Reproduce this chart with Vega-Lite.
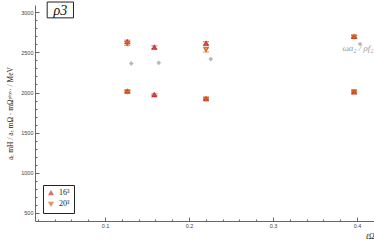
{
  "$schema": "https://vega.github.io/schema/vega-lite/v6.json",
  "width": 339,
  "height": 216,
  "autosize": {"type": "none"},
  "padding": {"left": 35, "top": 5, "right": 0, "bottom": 20},
  "config": {
    "view": {"stroke": null},
    "font": "Liberation Serif",
    "axis": {"labelFont": "Liberation Sans", "labelFontSize": 5.5, "labelColor": "#444", "labelOverlap": false, "domainColor": "#666", "tickColor": "#666", "grid": false, "titleFont": "Liberation Serif", "titleFontWeight": "normal", "titleColor": "#222"}
  },
  "datasets": {
    "lat": [
      {"l": 0.1266, "m": 2632, "e": 20, "ens": "16³"},
      {"l": 0.1266, "m": 2015, "e": 10, "ens": "16³"},
      {"l": 0.1587, "m": 2563, "e": 18, "ens": "16³"},
      {"l": 0.1587, "m": 1973, "e": 10, "ens": "16³"},
      {"l": 0.2203, "m": 2612, "e": 20, "ens": "16³"},
      {"l": 0.2203, "m": 1923, "e": 10, "ens": "16³"},
      {"l": 0.3965, "m": 2697, "e": 12, "ens": "16³"},
      {"l": 0.3965, "m": 2005, "e": 10, "ens": "16³"},
      {"l": 0.1266, "m": 2610, "e": 25, "ens": "20³"},
      {"l": 0.1266, "m": 2010, "e": 10, "ens": "20³"},
      {"l": 0.2203, "m": 2535, "e": 30, "ens": "20³"},
      {"l": 0.2203, "m": 1920, "e": 10, "ens": "20³"},
      {"l": 0.3965, "m": 2692, "e": 12, "ens": "20³"},
      {"l": 0.3965, "m": 2010, "e": 12, "ens": "20³"}
    ],
    "ref": [
      {"l": 0.1313, "m": 2363},
      {"l": 0.164, "m": 2370},
      {"l": 0.2259, "m": 2417},
      {"l": 0.4036, "m": 2604}
    ],
    "one": [{"k": 1}]
  },
  "layer": [
    {
      "data": {"name": "lat"},
      "mark": {"type": "errorbar", "ticks": {"size": 6}, "thickness": 1},
      "encoding": {
        "x": {"field": "l", "type": "quantitative", "scale": {"domain": [0.0167, 0.4202], "nice": false, "zero": false},
          "axis": {"values": [0.02,0.04,0.06,0.08,0.1,0.12,0.14,0.16,0.18,0.2,0.22,0.24,0.26,0.28,0.3,0.32,0.34,0.36,0.38,0.4,0.42],
            "tickCount": 200,
            "format": ".1f",
            "labelOpacity": {"condition": {"test": "abs(datum.value*10 - round(datum.value*10)) < 0.000001", "value": 1}, "value": 0},
            "tickSize": {"condition": {"test": "abs(datum.value*10 - round(datum.value*10)) < 0.000001", "value": -4}, "value": -2},
            "labelPadding": 6, "labelFlush": false, "labelOverlap": false, "labelBound": false,
            "title": "ℓΩ", "titleFontStyle": "italic", "titleFontSize": 8, "titleAnchor": "end", "titleAlign": "right", "titlePadding": 2}},
        "y": {"field": "m", "type": "quantitative", "scale": {"domain": [400, 3090], "nice": false, "zero": false},
          "axis": {"values": [500,600,700,800,900,1000,1100,1200,1300,1400,1500,1600,1700,1800,1900,2000,2100,2200,2300,2400,2500,2600,2700,2800,2900,3000],
            "tickCount": 200,
            "format": "d",
            "labelOpacity": {"condition": {"test": "datum.value % 500 === 0", "value": 1}, "value": 0},
            "tickSize": {"condition": {"test": "datum.value % 500 === 0", "value": -4}, "value": -2},
            "labelPadding": 6, "labelOverlap": false, "labelBound": false, "labelFlush": false,
            "title": "aₜ mH / aₜ mΩ · mΩᵖʰʸˢ· / MeV", "titleFontSize": 7.5, "titlePadding": 4}},
        "yError": {"field": "e"},
        "color": {"field": "ens", "type": "nominal", "scale": {"domain": ["16³", "20³"], "range": ["#c8322d", "#d2691e"]}}
      }
    },
    {
      "data": {"name": "lat"},
      "mark": {"type": "point", "filled": false, "size": 18, "strokeWidth": 1.2, "opacity": 1},
      "encoding": {
        "x": {"field": "l", "type": "quantitative"},
        "y": {"field": "m", "type": "quantitative"},
        "color": {"field": "ens", "type": "nominal", "legend": {"title": null, "orient": "bottom-left", "offset": 8, "strokeColor": "#222", "padding": 4, "labelFont": "Liberation Serif", "labelFontSize": 8, "labelColor": "#222", "symbolSize": 16, "symbolStrokeWidth": 1.2, "rowPadding": 1}},
        "shape": {"field": "ens", "type": "nominal", "scale": {"domain": ["16³", "20³"], "range": ["triangle-up", "triangle-down"]}}
      }
    },
    {
      "data": {"name": "ref"},
      "mark": {"type": "point", "filled": true, "size": 22, "color": "#b8b8b8", "opacity": 1, "shape": "diamond"},
      "encoding": {
        "x": {"field": "l", "type": "quantitative"},
        "y": {"field": "m", "type": "quantitative"}
      }
    },
    {
      "data": {"name": "one"},
      "mark": {"type": "text", "text": "ωa₂ / ρf₂", "font": "Liberation Serif", "fontStyle": "italic", "fontSize": 9, "color": "#999", "align": "right", "baseline": "middle"},
      "encoding": {"x": {"datum": 0.4195}, "y": {"datum": 2555}}
    },
    {
      "data": {"name": "one"},
      "mark": {"type": "rect", "fill": "white", "stroke": "#222", "strokeWidth": 1},
      "encoding": {"x": {"datum": 0.0312}, "x2": {"datum": 0.0625}, "y": {"datum": 3127}, "y2": {"datum": 2930}}
    },
    {
      "data": {"name": "one"},
      "mark": {"type": "text", "text": "ρ3", "font": "Liberation Serif", "fontStyle": "italic", "fontSize": 14, "color": "#111", "align": "center", "baseline": "middle"},
      "encoding": {"x": {"datum": 0.0468}, "y": {"datum": 3020}}
    }
  ]
}
